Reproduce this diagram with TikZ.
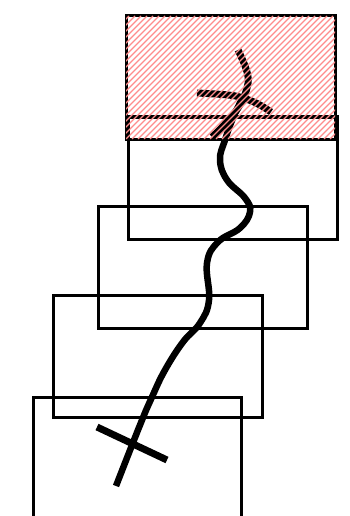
\documentclass[tikz,border=0pt]{standalone}
\begin{document}
\begin{tikzpicture}[x=1pt,y=-1pt,
	box/.style={line width=3pt},
	trail/.style={line width=6.5pt},
	mark stroke/.style={line width=7pt},
	hatch/.style={red!45,line width=1.4pt}]
	\useasboundingbox (0,0) rectangle (350,516);
	% frames
	\foreach \xa/\ya/\xb/\yb in {126/16/335/139,128/117/337/239,98/206/307/328,53/295/262/417}
		\draw[box] (\xa,\ya) rectangle (\xb,\yb);
	\draw[box] (33,522) -- (33,397) -- (241,397) -- (241,522);
	% path
	\draw[trail] plot[smooth,tension=0.7] coordinates {(243,97) (233,118) (225,140) (220,160) (227,180) (245,198) (250,212) (240,228) (218,242) (207,263) (209,300) (200,323) (183,342) (165,370) (152,397) (140,425) (116,486)};
	\draw[mark stroke] plot[smooth,tension=0.7] coordinates {(238,50) (247,72) (247,88) (238,108) (224,125) (212,137)};
	\draw[mark stroke] plot[smooth,tension=0.7] coordinates {(197,93) (228,95) (243,98) (258,104) (271,112)};
	\draw[mark stroke] (97,427) -- (167,460);
	% hatching
	\begin{scope}
		\clip (126,16) rectangle (335,139);
		\foreach \x in {0,6,...,336}
			\draw[hatch] (\x,139) -- ++(123,-123);
	\end{scope}
\end{tikzpicture}
\end{document}
